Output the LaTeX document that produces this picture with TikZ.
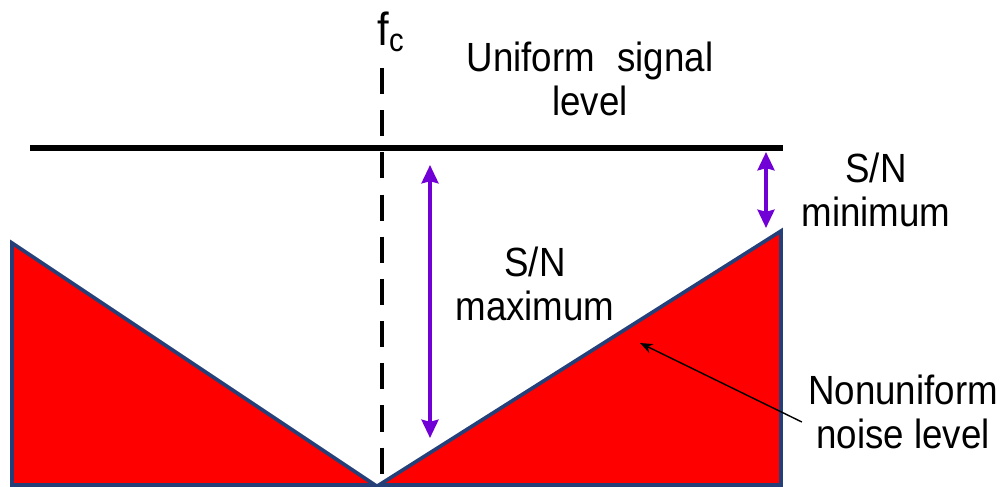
\documentclass[tikz,border=0pt]{standalone}
\usepackage{fontspec}
\setmainfont[FakeStretch=0.9]{Liberation Sans}
\usetikzlibrary{arrows.meta}
\definecolor{bordoblu}{RGB}{37,64,120}
\definecolor{violaSN}{RGB}{112,0,214}

\begin{document}
\begin{tikzpicture}[x=0.025cm, y=-0.025cm, >={Stealth[length=13pt,width=12pt,inset=1.5pt]},
    testo/.style={font=\fontsize{29}{31}\selectfont, align=center, inner sep=0pt},
    freccia/.style={<->, violaSN, line width=2.6pt},
    rumore/.style={fill=red, draw=bordoblu, line width=2.6pt}]
    % Cornice fissa dell'immagine
    \useasboundingbox (0,0) rectangle (1003,486);

    % 1. Livello di rumore non uniforme (due triangoli rossi)
    \draw[rumore] (12,243) -- (375,485) -- (12,485) -- cycle;
    \draw[rumore] (379,485) -- (781,231) -- (781,485) -- cycle;

    % Livello uniforme del segnale (linea nera orizzontale)
    \coordinate (segA) at (30,148);
    \coordinate (segB) at (783,148);
    \draw[line width=4.3pt] (segA) -- (segB);
    \node[testo] (uniforme) at (590,79) {Uniform\hspace{0.3em} signal\\level};

    % Frequenza centrale f_c (linea tratteggiata verticale)
    \node[testo, font=\fontsize{33}{35}\selectfont] (fc) at (391,32) {f\textsubscript{c}};
    \coordinate (fcTop) at (382,68);
    \coordinate (fcBot) at (382,486);
    \draw[line width=3.5pt, dash pattern=on 18.5pt off 11.5pt] (fcTop) -- (fcBot);

    % S/N massimo (al centro)
    \coordinate (maxTop) at (430,165);
    \coordinate (maxBot) at (430,438);
    \draw[freccia] (maxTop) -- (maxBot);
    \node[testo] (snmax) at (535,284) {S/N\\maximum};

    % S/N minimo (al bordo)
    \coordinate (minTop) at (766,152);
    \coordinate (minBot) at (766,228);
    \draw[freccia] (minTop) -- (minBot);
    \node[testo] (snmin) at (876,190) {S/N\\minimum};

    % Etichetta del rumore con freccia nera
    \node[testo] (nonunif) at (903,412) {Nonuniform\\noise level};
    \coordinate (puntaRumore) at (640,343);
    \draw[-{Stealth[length=9pt,width=7pt]}, line width=1pt] (nonunif.west) ++(-6,10) -- (puntaRumore);
\end{tikzpicture}
\end{document}
